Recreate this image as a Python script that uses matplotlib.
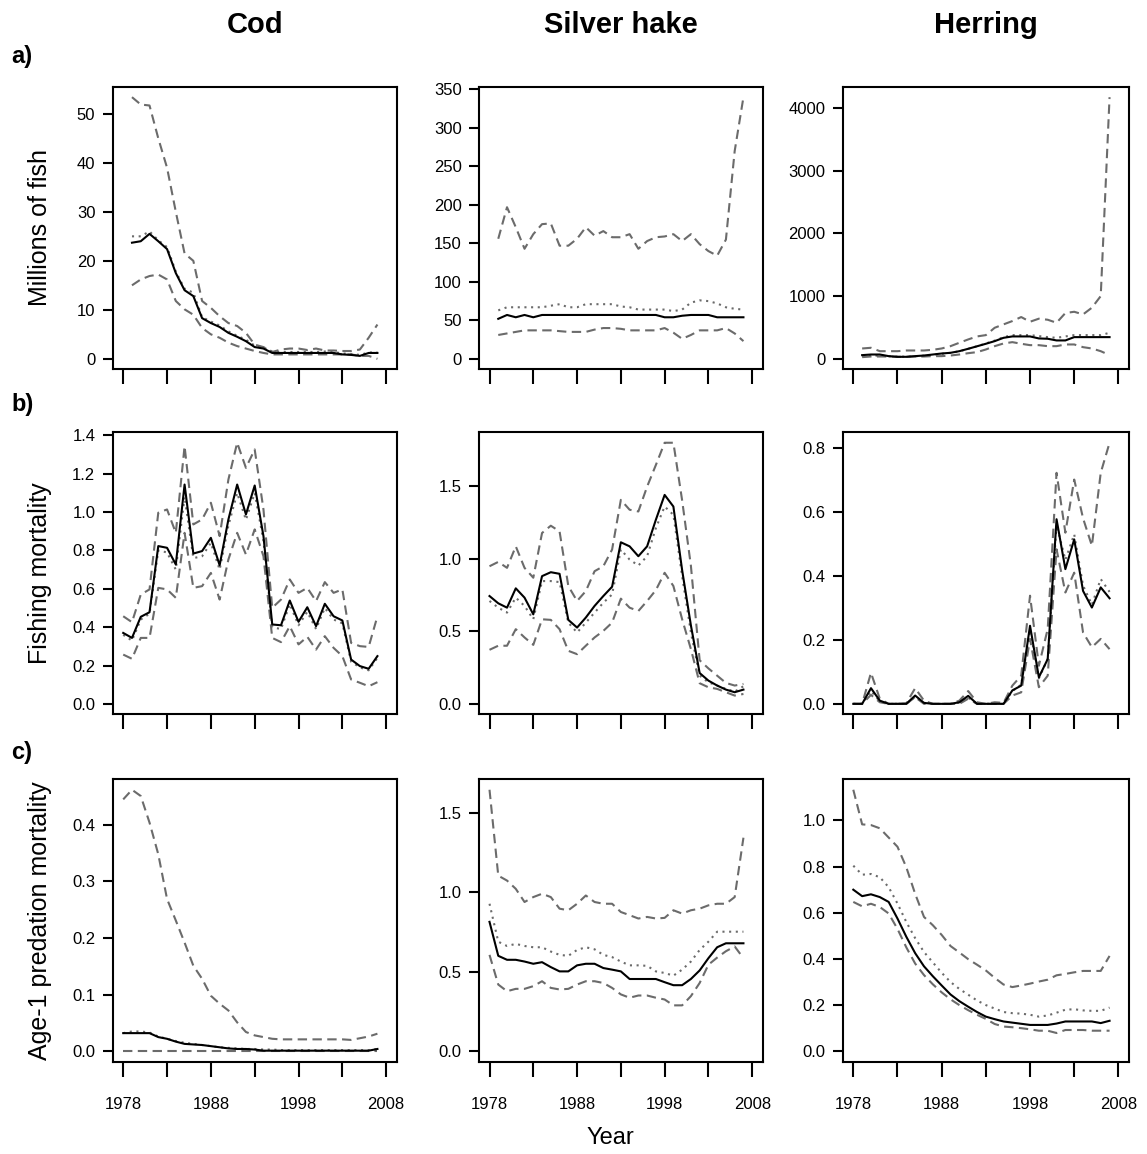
import numpy as np
import matplotlib.pyplot as plt

plt.rcParams['font.family'] = ['Liberation Sans', 'DejaVu Sans']

years_a = np.arange(1979, 2008)   # abundance series
years = np.arange(1978, 2008)     # mortality series

# a) abundance, millions of fish
cod_n_med = [23.7, 24.0, 25.5, 24.0, 22.4, 17.5, 14.0, 12.8, 8.3, 7.3, 6.5, 5.3, 4.5, 3.6, 2.4,
             2.1, 1.2, 1.2, 1.2, 1.2, 1.2, 1.2, 1.2, 1.2, 0.9, 0.8, 0.6, 1.2, 1.2]
cod_n_mean = [25.0, 25.0, 26.0, 24.2, 22.8, 17.8, 14.3, 13.5, 8.5, 7.6, 6.8, 5.6, 4.7, 3.9, 2.7,
              2.3, 1.5, 1.4, 1.4, 1.4, 1.4, 1.4, 1.5, 1.4, 1.1, 1.0, 0.8, 1.3, 1.3]
cod_n_lo = [15.0, 16.2, 16.9, 17.2, 16.2, 11.8, 10.1, 9.0, 6.3, 5.0, 4.3, 3.3, 2.6, 2.1, 1.6,
            1.2, 0.9, 0.9, 0.9, 0.9, 0.9, 0.9, 0.9, 0.9, 0.9, 0.9, 0.6, 0.6, 0.0]
cod_n_hi = [53.4, 51.9, 51.7, 45.0, 39.0, 30.0, 21.5, 20.0, 11.8, 10.4, 8.7, 7.3, 6.7, 5.3, 2.9,
            2.4, 1.4, 1.9, 2.1, 2.1, 1.8, 2.1, 1.7, 1.7, 1.6, 1.6, 1.9, 4.3, 7.0]

sh_n_med = [52, 57, 54, 57, 54, 57, 57, 57, 57, 57, 57, 57, 57, 57, 57,
            57, 57, 57, 57, 54, 54, 56, 57, 57, 57, 54, 54, 54, 54]
sh_n_mean = [63, 67, 67, 67, 67, 67, 69, 71, 67, 67, 71, 71, 71, 71, 68,
             67, 64, 64, 64, 64, 62, 64, 73, 76, 75, 72, 67, 65, 64]
sh_n_lo = [31, 33, 35, 37, 37, 37, 37, 36, 35, 35, 35, 38, 40, 40, 39,
           37, 37, 37, 37, 40, 34, 26, 31, 37, 37, 37, 40, 33, 23]
sh_n_hi = [156, 197, 171, 143, 162, 175, 176, 147, 147, 156, 171, 160, 166, 158, 158,
           162, 143, 153, 158, 159, 162, 153, 162, 149, 140, 134, 155, 270, 340]

hr_n_med = [59, 69, 69, 43, 32, 32, 43, 53, 69, 85, 96, 122, 160, 200, 240,
            282, 335, 357, 357, 357, 325, 320, 293, 293, 346, 346, 346, 346, 346]
hr_n_mean = [43, 48, 53, 40, 35, 35, 40, 50, 62, 80, 95, 120, 160, 200, 245,
             290, 345, 378, 378, 378, 362, 346, 335, 357, 378, 378, 378, 378, 415]
hr_n_lo = [27, 37, 37, 37, 32, 32, 37, 37, 43, 43, 53, 69, 90, 107, 149,
           202, 245, 266, 240, 218, 218, 202, 202, 229, 229, 186, 165, 122, 59]
hr_n_hi = [165, 176, 122, 122, 122, 133, 133, 133, 144, 165, 202, 256, 309, 357, 378,
           495, 549, 602, 666, 591, 640, 623, 575, 730, 750, 708, 815, 1000, 4170]

# b) fishing mortality
cod_f_med = [0.37, 0.344, 0.454, 0.478, 0.823, 0.814, 0.727, 1.144, 0.784, 0.797,
             0.866, 0.723, 0.962, 1.144, 0.988, 1.139, 0.875, 0.414, 0.41, 0.539,
             0.428, 0.504, 0.405, 0.522, 0.457, 0.435, 0.231, 0.197, 0.183, 0.249]
cod_f_mean = [0.36, 0.33, 0.44, 0.47, 0.80, 0.79, 0.70, 1.08, 0.76, 0.77,
              0.84, 0.70, 0.93, 1.10, 0.96, 1.10, 0.85, 0.40, 0.39, 0.52,
              0.41, 0.48, 0.39, 0.50, 0.44, 0.42, 0.22, 0.19, 0.175, 0.24]
cod_f_lo = [0.257, 0.235, 0.344, 0.344, 0.605, 0.597, 0.553, 0.892, 0.605, 0.614,
            0.683, 0.544, 0.753, 0.892, 0.779, 0.91, 0.77, 0.344, 0.322, 0.405,
            0.31, 0.35, 0.283, 0.353, 0.292, 0.249, 0.127, 0.11, 0.092, 0.113]
cod_f_hi = [0.457, 0.426, 0.57, 0.597, 0.997, 1.014, 0.892, 1.344, 0.936, 0.962,
            1.049, 0.875, 1.17, 1.362, 1.231, 1.327, 1.014, 0.501, 0.544, 0.649,
            0.579, 0.605, 0.536, 0.635, 0.579, 0.597, 0.318, 0.301, 0.297, 0.457]

sh_f_med = [0.742, 0.692, 0.662, 0.795, 0.731, 0.616, 0.879, 0.906, 0.895, 0.578,
            0.525, 0.594, 0.674, 0.742, 0.806, 1.112, 1.084, 1.016, 1.084, 1.267,
            1.438, 1.358, 0.92, 0.54, 0.212, 0.16, 0.126, 0.098, 0.08, 0.098]
sh_f_mean = [0.708, 0.662, 0.628, 0.731, 0.674, 0.582, 0.845, 0.845, 0.838, 0.559,
             0.491, 0.559, 0.628, 0.696, 0.753, 1.062, 0.993, 0.952, 1.016, 1.21,
             1.358, 1.301, 0.879, 0.491, 0.194, 0.148, 0.126, 0.103, 0.084, 0.121]
sh_f_lo = [0.372, 0.4, 0.4, 0.514, 0.457, 0.406, 0.582, 0.578, 0.514, 0.365,
           0.342, 0.4, 0.457, 0.502, 0.559, 0.724, 0.662, 0.639, 0.708, 0.783,
           0.902, 0.811, 0.582, 0.377, 0.142, 0.114, 0.103, 0.08, 0.057, 0.068]
sh_f_hi = [0.947, 0.977, 0.936, 1.084, 0.936, 0.868, 1.176, 1.226, 1.187, 0.811,
           0.708, 0.776, 0.913, 0.947, 1.062, 1.404, 1.336, 1.324, 1.495, 1.644,
           1.797, 1.797, 1.40, 0.95, 0.30, 0.244, 0.194, 0.144, 0.126, 0.137]

hr_f_med = [0.0, 0.0, 0.049, 0.01, 0.0, 0.0, 0.0, 0.026, 0.003, 0.0,
            0.0, 0.0, 0.005, 0.025, 0.0, 0.0, 0.0, 0.0, 0.042, 0.057,
            0.244, 0.083, 0.14, 0.577, 0.421, 0.514, 0.353, 0.301, 0.364, 0.33]
hr_f_mean = [0.0, 0.0, 0.04, 0.008, 0.0, 0.0, 0.0, 0.022, 0.003, 0.0,
             0.0, 0.0, 0.004, 0.02, 0.0, 0.0, 0.0, 0.0, 0.04, 0.06,
             0.23, 0.08, 0.14, 0.56, 0.45, 0.53, 0.37, 0.31, 0.39, 0.35]
hr_f_lo = [0.0, 0.0, 0.028, 0.005, 0.0, 0.0, 0.0, 0.021, 0.0, 0.0,
           0.0, 0.0, 0.0, 0.016, 0.0, 0.0, 0.0, 0.0, 0.026, 0.036,
           0.203, 0.052, 0.088, 0.483, 0.348, 0.41, 0.223, 0.177, 0.203, 0.171]
hr_f_hi = [0.0, 0.0, 0.097, 0.016, 0.0, 0.0, 0.002, 0.049, 0.01, 0.0,
           0.0, 0.0, 0.01, 0.04, 0.005, 0.0, 0.005, 0.003, 0.057, 0.088,
           0.338, 0.119, 0.234, 0.722, 0.535, 0.701, 0.58, 0.494, 0.722, 0.816]

# c) age-1 predation mortality
cod_m_med = [0.032, 0.032, 0.032, 0.032, 0.025, 0.022, 0.017, 0.013, 0.012, 0.011,
             0.009, 0.007, 0.005, 0.004, 0.004, 0.003, 0.001, 0.001, 0.001, 0.001,
             0.001, 0.001, 0.001, 0.001, 0.001, 0.001, 0.001, 0.001, 0.001, 0.004]
cod_m_mean = [0.032, 0.035, 0.035, 0.033, 0.026, 0.022, 0.018, 0.015, 0.013, 0.011,
              0.009, 0.007, 0.006, 0.005, 0.004, 0.004, 0.003, 0.003, 0.002, 0.002,
              0.002, 0.002, 0.002, 0.002, 0.002, 0.002, 0.002, 0.002, 0.002, 0.004]
cod_m_lo = [0.0, 0.0, 0.0, 0.0, 0.0, 0.0, 0.0, 0.0, 0.0, 0.0,
            0.0, 0.0, 0.0, 0.0, 0.0, 0.0, 0.0, 0.0, 0.0, 0.0,
            0.0, 0.0, 0.0, 0.0, 0.0, 0.0, 0.0, 0.0, 0.0, 0.0]
cod_m_hi = [0.445, 0.462, 0.451, 0.404, 0.348, 0.269, 0.231, 0.192, 0.151, 0.128,
            0.098, 0.084, 0.072, 0.051, 0.034, 0.028, 0.025, 0.022, 0.021, 0.021,
            0.021, 0.021, 0.021, 0.021, 0.021, 0.021, 0.020, 0.023, 0.026, 0.031]

sh_m_med = [0.815, 0.601, 0.576, 0.576, 0.565, 0.551, 0.561, 0.53, 0.503, 0.503,
            0.541, 0.551, 0.551, 0.524, 0.514, 0.503, 0.455, 0.455, 0.455, 0.455,
            0.435, 0.416, 0.416, 0.455, 0.509, 0.586, 0.655, 0.68, 0.68, 0.68]
sh_m_mean = [0.929, 0.69, 0.663, 0.676, 0.663, 0.655, 0.655, 0.628, 0.607, 0.601,
             0.638, 0.655, 0.642, 0.607, 0.593, 0.565, 0.541, 0.541, 0.538, 0.503,
             0.493, 0.476, 0.514, 0.565, 0.638, 0.69, 0.753, 0.753, 0.753, 0.753]
sh_m_lo = [0.607, 0.42, 0.378, 0.393, 0.393, 0.41, 0.441, 0.399, 0.389, 0.393,
           0.42, 0.441, 0.441, 0.43, 0.399, 0.358, 0.337, 0.351, 0.351, 0.337,
           0.326, 0.289, 0.289, 0.347, 0.43, 0.545, 0.59, 0.63, 0.66, 0.586]
sh_m_hi = [1.647, 1.106, 1.075, 1.023, 0.94, 0.971, 0.992, 0.971, 0.898, 0.888,
           0.929, 0.981, 0.94, 0.929, 0.929, 0.877, 0.857, 0.836, 0.846, 0.836,
           0.84, 0.888, 0.867, 0.888, 0.898, 0.919, 0.929, 0.929, 0.971, 1.345]

hr_m_med = [0.70, 0.672, 0.68, 0.668, 0.647, 0.575, 0.496, 0.425, 0.368, 0.325,
            0.285, 0.246, 0.217, 0.193, 0.17, 0.15, 0.139, 0.129, 0.124, 0.119,
            0.114, 0.114, 0.114, 0.12, 0.129, 0.129, 0.129, 0.129, 0.122, 0.132]
hr_m_mean = [0.804, 0.765, 0.768, 0.754, 0.711, 0.64, 0.56, 0.49, 0.43, 0.385,
             0.34, 0.30, 0.27, 0.245, 0.22, 0.20, 0.185, 0.17, 0.165, 0.163,
             0.158, 0.15, 0.155, 0.167, 0.18, 0.182, 0.177, 0.175, 0.175, 0.189]
hr_m_lo = [0.647, 0.628, 0.639, 0.625, 0.597, 0.53, 0.45, 0.38, 0.33, 0.29,
           0.255, 0.225, 0.2, 0.178, 0.158, 0.14, 0.118, 0.107, 0.104, 0.1,
           0.095, 0.089, 0.089, 0.079, 0.092, 0.092, 0.092, 0.089, 0.089, 0.089]
hr_m_hi = [1.133, 0.983, 0.98, 0.966, 0.926, 0.886, 0.797, 0.682, 0.582, 0.546,
           0.504, 0.456, 0.428, 0.399, 0.375, 0.35, 0.318, 0.289, 0.278, 0.285,
           0.293, 0.302, 0.31, 0.329, 0.335, 0.342, 0.348, 0.348, 0.348, 0.413]

species = ['Cod', 'Silver hake', 'Herring']
row_tags = ['a)', 'b)', 'c)']
row_ylabels = ['Millions of fish', 'Fishing mortality', 'Age-1 predation mortality']
xticks = [1978, 1983, 1988, 1993, 1998, 2003, 2008]
xticklabels = ['1978', '', '1988', '', '1998', '', '2008']

panels = [
    [(years_a, cod_n_med, cod_n_mean, cod_n_lo, cod_n_hi, [0, 10, 20, 30, 40, 50]),
     (years_a, sh_n_med, sh_n_mean, sh_n_lo, sh_n_hi, [0, 50, 100, 150, 200, 250, 300, 350]),
     (years_a, hr_n_med, hr_n_mean, hr_n_lo, hr_n_hi, [0, 1000, 2000, 3000, 4000])],
    [(years, cod_f_med, cod_f_mean, cod_f_lo, cod_f_hi, [0.0, 0.2, 0.4, 0.6, 0.8, 1.0, 1.2, 1.4]),
     (years, sh_f_med, sh_f_mean, sh_f_lo, sh_f_hi, [0.0, 0.5, 1.0, 1.5]),
     (years, hr_f_med, hr_f_mean, hr_f_lo, hr_f_hi, [0.0, 0.2, 0.4, 0.6, 0.8])],
    [(years, cod_m_med, cod_m_mean, cod_m_lo, cod_m_hi, [0.0, 0.1, 0.2, 0.3, 0.4]),
     (years, sh_m_med, sh_m_mean, sh_m_lo, sh_m_hi, [0.0, 0.5, 1.0, 1.5]),
     (years, hr_m_med, hr_m_mean, hr_m_lo, hr_m_hi, [0.0, 0.2, 0.4, 0.6, 0.8, 1.0])],
]

W, H = 1147, 1154
fig = plt.figure(figsize=(W / 100, H / 100), dpi=100)

col_left = [112.7, 479.0, 842.7]
col_width = [284.0, 283.7, 286.3]
row_top = [86.7, 432.3, 779.3]
row_height = [282.6, 282.0, 282.4]

grey = '#6b6b6b'

for r in range(3):
    for c in range(3):
        x, med, mean, lo, hi, yt = panels[r][c]
        ax = fig.add_axes([col_left[c] / W, 1 - (row_top[r] + row_height[r]) / H,
                           col_width[c] / W, row_height[r] / H])
        ax.plot(x, hi, color=grey, lw=1.5, dashes=(4.5, 2.6))
        ax.plot(x, lo, color=grey, lw=1.5, dashes=(4.5, 2.6))
        ax.plot(x, mean, color=grey, lw=1.5, dashes=(1.0, 2.2))
        ax.plot(x, med, color='black', lw=1.5)

        top = max(max(hi), max(mean), max(med))
        ax.set_ylim(-0.04 * top, 1.04 * top)
        ax.set_xlim(1976.8, 2009.2)
        ax.set_yticks(yt)
        ax.set_xticks(xticks)
        if r == 2:
            ax.set_xticklabels(xticklabels)
        else:
            ax.set_xticklabels([])
        ax.tick_params(axis='y', direction='out', length=7.5, width=1.5, pad=5, labelsize=12)
        ax.tick_params(axis='x', direction='out', length=10.5, width=1.5, pad=15, labelsize=12)
        for s in ax.spines.values():
            s.set_linewidth(1.5)

# column titles, row tags and shared axis labels
for c in range(3):
    fig.text((col_left[c] + col_width[c] / 2) / W, 1 - 25 / H, species[c],
             ha='center', va='center', fontsize=21, fontweight='bold')
tag_y = [57, 405, 752]
for r in range(3):
    fig.text(11 / W, 1 - tag_y[r] / H, row_tags[r], ha='left', va='center',
             fontsize=17, fontweight='bold')
    fig.text(40 / W, 1 - (row_top[r] + row_height[r] / 2) / H, row_ylabels[r],
             rotation=90, ha='center', va='center', fontsize=18)
fig.text(610 / W, 1 - 1138 / H, 'Year', ha='center', va='center', fontsize=17)

fig.savefig('out.png', dpi=100)
